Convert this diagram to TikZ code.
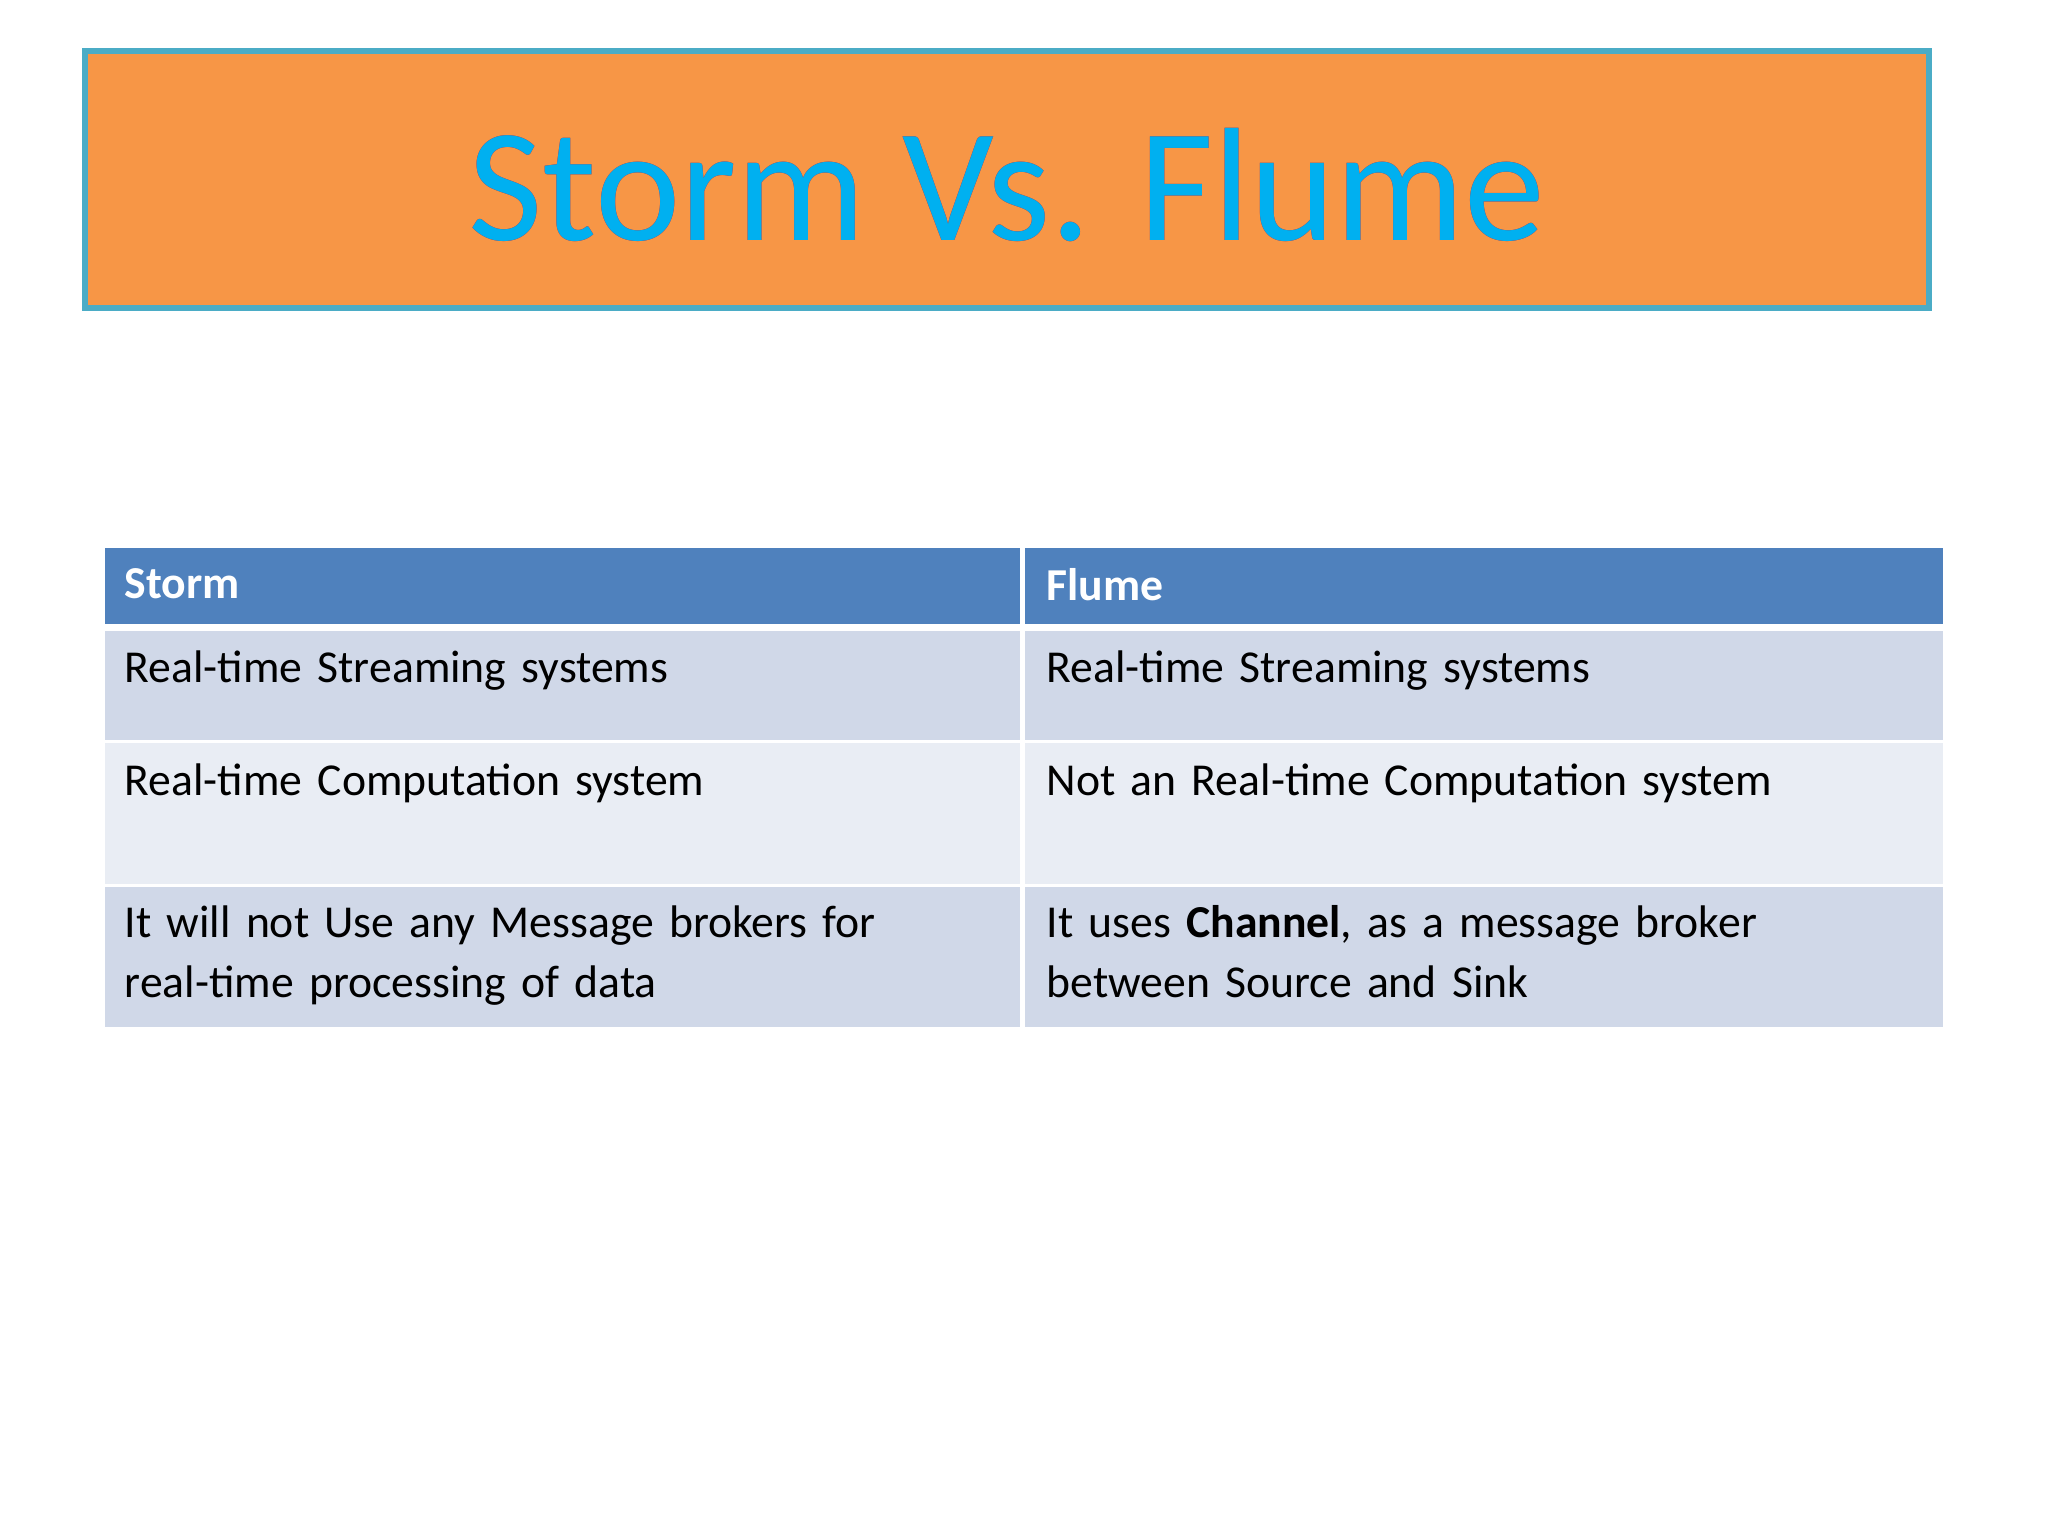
\documentclass[tikz,border=0pt]{standalone}
\usepackage{fontspec}
\setmainfont{Carlito}
\usepackage[outline]{contour}
\contourlength{0.6pt}
\definecolor{ttl}{HTML}{F79646}
\definecolor{tb}{HTML}{4BACC6}
\definecolor{hd}{HTML}{4F81BD}
\definecolor{ra}{HTML}{D0D8E8}
\definecolor{rb}{HTML}{E9EDF4}
\definecolor{tblue}{HTML}{00B0F0}
\begin{document}
\begin{tikzpicture}[x=1cm,y=-1cm,
  cell/.style={anchor=north west,inner sep=0pt,align=left,text width=8.6cm,font=\fontsize{13}{17}\selectfont},
  hcell/.style={cell,text=white,font=\fontsize{13}{17}\selectfont\bfseries}]
\useasboundingbox (0,0) rectangle (20.48,15.36);
\fill[white] (0,0) rectangle (20.48,15.36);
\draw[tb,line width=1.5pt,fill=ttl] (0.85,0.51) rectangle (19.29,3.08);
\node (title) at (10.07,1.85) {\fontsize{46}{50}\selectfont\contour{red}{\textcolor{tblue}{Storm Vs. Flume}}};
\fill[hd] (1.045,5.485) rectangle (19.43,6.24);
\fill[ra] (1.045,6.31) rectangle (19.43,7.405);
\fill[rb] (1.045,7.43) rectangle (19.43,8.84);
\fill[ra] (1.045,8.87) rectangle (19.43,10.265);
\draw[white,line width=1.5pt] (10.226,5.485) -- (10.226,10.265);
\node[hcell] (h1) at (1.24,5.68) {Storm};
\node[hcell] (h2) at (10.46,5.68) {Flume};
\node[cell] (a1) at (1.24,6.5) {Real-time Streaming systems};
\node[cell] (b1) at (10.46,6.5) {Real-time Streaming systems};
\node[cell] (a2) at (1.24,7.63) {Real-time Computation system};
\node[cell] (b2) at (10.46,7.63) {Not an Real-time Computation system};
\node[cell] (a3) at (1.24,9.05) {It will not Use any Message brokers for\\real-time processing of data};
\node[cell] (b3) at (10.46,9.05) {It uses \textbf{Channel}, as a message broker\\between Source and Sink};
\end{tikzpicture}
\end{document}
